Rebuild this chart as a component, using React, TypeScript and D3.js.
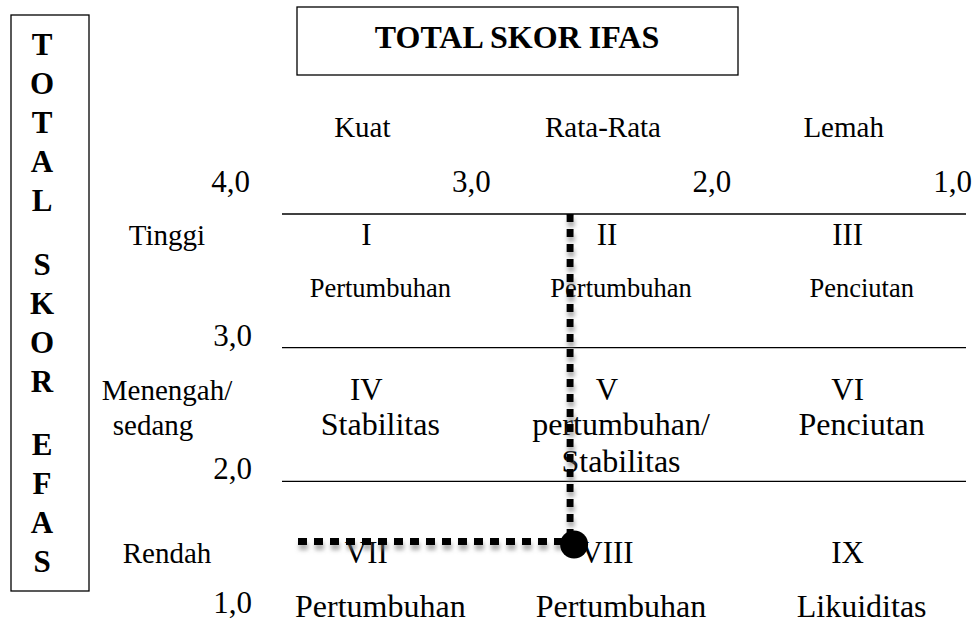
import React from 'react';
import * as d3 from 'd3';

// IFAS (x) and EFAS (y) scores
const ifasTicks = [4, 3, 2, 1];
const efasTicks = [3, 2, 1];
const ifasCategories = ['Kuat', 'Rata-Rata', 'Lemah'];
const efasCategories = ['Tinggi', 'Menengah', 'Rendah'];
const efasLabelLines = [['Tinggi'], ['Menengah/', 'sedang'], ['Rendah']];
const cellNumbers = ['I', 'II', 'III', 'IV', 'V', 'VI', 'VII', 'VIII', 'IX'];
const cellStrategies = [
  ['Pertumbuhan'], ['Pertumbuhan'], ['Penciutan'],
  ['Stabilitas'], ['pertumbuhan/', 'Stabilitas'], ['Penciutan'],
  ['Pertumbuhan'], ['Pertumbuhan'], ['Likuiditas'],
];
const ifasScore = 2.67;
const efasScore = 1.55;
const titleTop = 'TOTAL SKOR IFAS';
const titleSideWords = ['TOTAL', 'SKOR', 'EFAS'];

// per-row text placement (offset from row top), the source is a Word table
const rowLayout = [
  { numDy: 31, stratDy: 83, stratSize: 26.5, labelDy: 31 },
  { numDy: 52, stratDy: 87, stratSize: 32, labelDy: 52 },
  { numDy: 82, stratDy: 136, stratSize: 32, labelDy: 82 },
];

const W = 975;
const H = 629;
const font = '"Liberation Serif", "Times New Roman", serif';

const fmt = (v: number) => d3.format('.1f')(v).replace('.', ',');

export default function App() {
  const x = d3.scaleLinear().domain([4, 1]).range([250, 972]);
  const col = d3.scaleBand().domain(ifasCategories).range([250, 972]);
  const y = d3.scaleLinear().domain([4, 1]).range([214, 615]);
  const row = d3.scaleBand().domain(efasCategories).range([214, 615]);

  const gridLeft = x(4) + 32;
  const gridRight = x(1) - 6;
  const px = x(ifasScore);
  const py = y(efasScore);

  // side title: letters stacked, bigger gap between words
  const sideLetters: { ch: string; yy: number }[] = [];
  let yy = 55;
  titleSideWords.forEach((w, wi) => {
    if (wi > 0) yy += 63.5 - 39;
    w.split('').forEach((ch) => {
      sideLetters.push({ ch, yy });
      yy += 39;
    });
  });

  return (
    <svg width={W} height={H} style={{ position: 'absolute', left: 0, top: 0, background: '#fff' }}
      fontFamily={font} fill="#000">
      <defs>
        <filter id="shadow" x="-10%" y="-10%" width="130%" height="130%">
          <feDropShadow dx="1" dy="5" stdDeviation="2" floodColor="#777" floodOpacity="0.6" />
        </filter>
      </defs>

      {/* side box EFAS */}
      <rect x={11} y={15} width={78} height={576} fill="none" stroke="#000" strokeWidth={1.3} />
      {sideLetters.map((d, i) => (
        <text key={i} x={42} y={d.yy} fontSize={31} fontWeight="bold" textAnchor="middle">{d.ch}</text>
      ))}

      {/* top box IFAS */}
      <rect x={297} y={7} width={441} height={68} fill="none" stroke="#000" strokeWidth={1.3} />
      <text x={517} y={48} fontSize={32} fontWeight="bold" textAnchor="middle">{titleTop}</text>

      {/* column headers */}
      {ifasCategories.map((c) => (
        <text key={c} x={col(c)! + col.bandwidth() / 2 - 8} y={y(4) - 77} fontSize={29} textAnchor="middle">{c}</text>
      ))}

      {/* IFAS ticks */}
      {ifasTicks.map((v) => (
        <text key={v} x={x(v)} y={y(4) - 22} fontSize={31} textAnchor="end">{fmt(v)}</text>
      ))}

      {/* EFAS ticks */}
      {efasTicks.map((v) => (
        <text key={v} x={x(4) + 2} y={y(v) - 2} fontSize={31} textAnchor="end">{fmt(v)}</text>
      ))}

      {/* horizontal lines */}
      {[4, 3, 2].map((v) => (
        <line key={v} x1={gridLeft} x2={gridRight} y1={y(v)} y2={y(v)} stroke="#000" strokeWidth={1.4} />
      ))}

      {/* row labels */}
      {efasCategories.map((r, ri) => (
        <text key={r} x={160} y={row(r)! + rowLayout[ri].labelDy} fontSize={29} textAnchor="middle">
          {efasLabelLines[ri].map((t, li) => (
            <tspan key={li} x={li === 0 ? 167 : 153} dy={li === 0 ? 0 : 35}>{t}</tspan>
          ))}
        </text>
      ))}

      {/* cells */}
      {cellNumbers.map((n, i) => {
        const ri = Math.floor(i / 3);
        const ci = i % 3;
        const cx = col(ifasCategories[ci])! + col.bandwidth() / 2;
        const top = row(efasCategories[ri])!;
        const L = rowLayout[ri];
        return (
          <g key={n}>
            <text x={cx - 4} y={top + L.numDy} fontSize={31} textAnchor="middle">{n}</text>
            <text x={cx + 10} y={top + L.stratDy} fontSize={L.stratSize} textAnchor="middle">
              {cellStrategies[i].map((t, li) => (
                <tspan key={li} x={cx + 10} dy={li === 0 ? 0 : 37}>{t}</tspan>
              ))}
            </text>
          </g>
        );
      })}

      {/* position of the company */}
      <g filter="url(#shadow)">
        <line x1={px} x2={px} y1={y(4)} y2={py} stroke="#000" strokeWidth={7} strokeDasharray="8 7" />
        <line x1={gridLeft + 16} x2={px} y1={py} y2={py} stroke="#000" strokeWidth={7} strokeDasharray="9 7" />
      </g>
      <circle cx={px + 4} cy={py + 3} r={14} fill="#000" />
    </svg>
  );
}
